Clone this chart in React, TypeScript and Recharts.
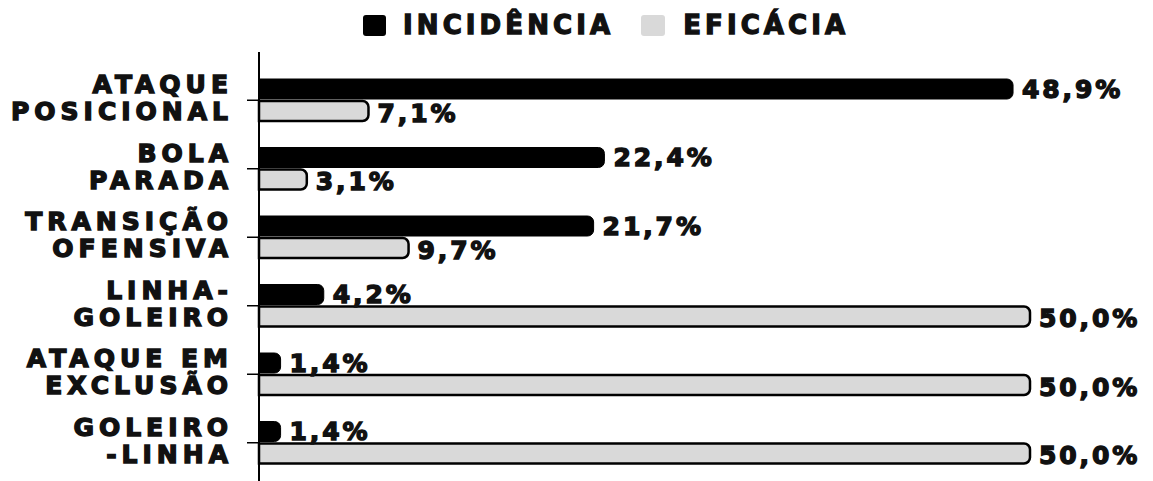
import React from "react";
import { BarChart, Bar, XAxis, YAxis, Legend, LabelList } from "recharts";

const categories = ["ATAQUE\nPOSICIONAL", "BOLA\nPARADA", "TRANSIÇÃO\nOFENSIVA", "LINHA-\nGOLEIRO", "ATAQUE EM\nEXCLUSÃO", "GOLEIRO\n-LINHA"];
const incidencia = [48.9, 22.4, 21.7, 4.2, 1.4, 1.4];
const eficacia = [7.1, 3.1, 9.7, 50.0, 50.0, 50.0];
const seriesNames = ["INCIDÊNCIA", "EFICÁCIA"];

const FONT = "'DejaVu Sans', sans-serif";
const INK = "#111";
const GRAY = "#d9d9d9";
const SPACING = 2.9;
const TICK_SPACING = 5;
// DejaVu Bold is lighter than the original heavy face, so the glyphs get a thin outline
const heavy = { stroke: INK, strokeWidth: 1.4, paintOrder: "stroke" as any };

const data = categories.map((name, i) => ({
  name,
  incidencia: incidencia[i],
  eficacia: eficacia[i],
}));

const fmt = (v: number) => v.toFixed(1).replace(".", ",") + "%";

// two-line category labels, right aligned against the axis
const CategoryTick = (props: any) => {
  const { x, y, payload } = props;
  const lines = String(payload.value).split("\n");
  const tx = x + TICK_SPACING;
  return (
    <text x={tx} y={y} textAnchor="end" fill={INK} fontFamily={FONT} fontWeight={700} fontSize={25} letterSpacing={TICK_SPACING} {...heavy}>
      <tspan x={tx} y={y - 7}>{lines[0]}</tspan>
      <tspan x={tx} y={y + 20}>{lines[1]}</tspan>
    </text>
  );
};

const valueLabel = (dy: number) => (props: any) => {
  const { x, y, width, height, value } = props;
  return (
    <text x={x + width + 9} y={y + height / 2 + dy} dominantBaseline="central" fill={INK} fontFamily={FONT} fontWeight={700} fontSize={25} letterSpacing={SPACING} {...heavy}>
      {fmt(Number(value))}
    </text>
  );
};

const LegendBox = () => (
  <div style={{ display: "flex", alignItems: "center", fontFamily: FONT, fontWeight: 700, fontSize: 26, letterSpacing: 4.1, color: INK, whiteSpace: "nowrap", WebkitTextStroke: "1.3px #111" } as any}>
    <span style={{ width: 23, height: 21, background: "#000", borderRadius: 3, display: "inline-block" }} />
    <span style={{ marginLeft: 17 }}>{seriesNames[0]}</span>
    <span style={{ width: 24, height: 21, background: GRAY, borderRadius: 3, display: "inline-block", marginLeft: 27 }} />
    <span style={{ marginLeft: 18 }}>{seriesNames[1]}</span>
  </div>
);

export default function App() {
  return (
    <div style={{ position: "absolute", left: 0, top: 0, width: 1153, height: 481, background: "#fff" }}>
      <BarChart
        width={1153}
        height={481}
        data={data}
        layout="vertical"
        margin={{ top: 52, right: 123, bottom: 0, left: 0 }}
        barSize={20}
        barGap={2}
      >
        <XAxis type="number" domain={[0, 50]} hide />
        <YAxis
          type="category"
          dataKey="name"
          width={259}
          padding={{ top: 14, bottom: 4 }}
          axisLine={{ stroke: "#000", strokeWidth: 2 }}
          tickLine={{ stroke: "#000", strokeWidth: 1.5 }}
          tickSize={12}
          tickMargin={19}
          tick={<CategoryTick />}
          interval={0}
        />
        <Legend
          verticalAlign="middle"
          align="center"
          content={<LegendBox />}
          wrapperStyle={{ top: 10, left: 363, width: "auto" }}
        />
        <Bar dataKey="incidencia" name={seriesNames[0]} fill="#000" stroke="#000" strokeWidth={1} radius={[0, 6, 6, 0]} isAnimationActive={false}>
          <LabelList dataKey="incidencia" content={valueLabel(0)} />
        </Bar>
        <Bar dataKey="eficacia" name={seriesNames[1]} fill={GRAY} stroke="#000" strokeWidth={2.5} radius={[0, 6, 6, 0]} isAnimationActive={false}>
          <LabelList dataKey="eficacia" content={valueLabel(2)} />
        </Bar>
      </BarChart>
    </div>
  );
}
